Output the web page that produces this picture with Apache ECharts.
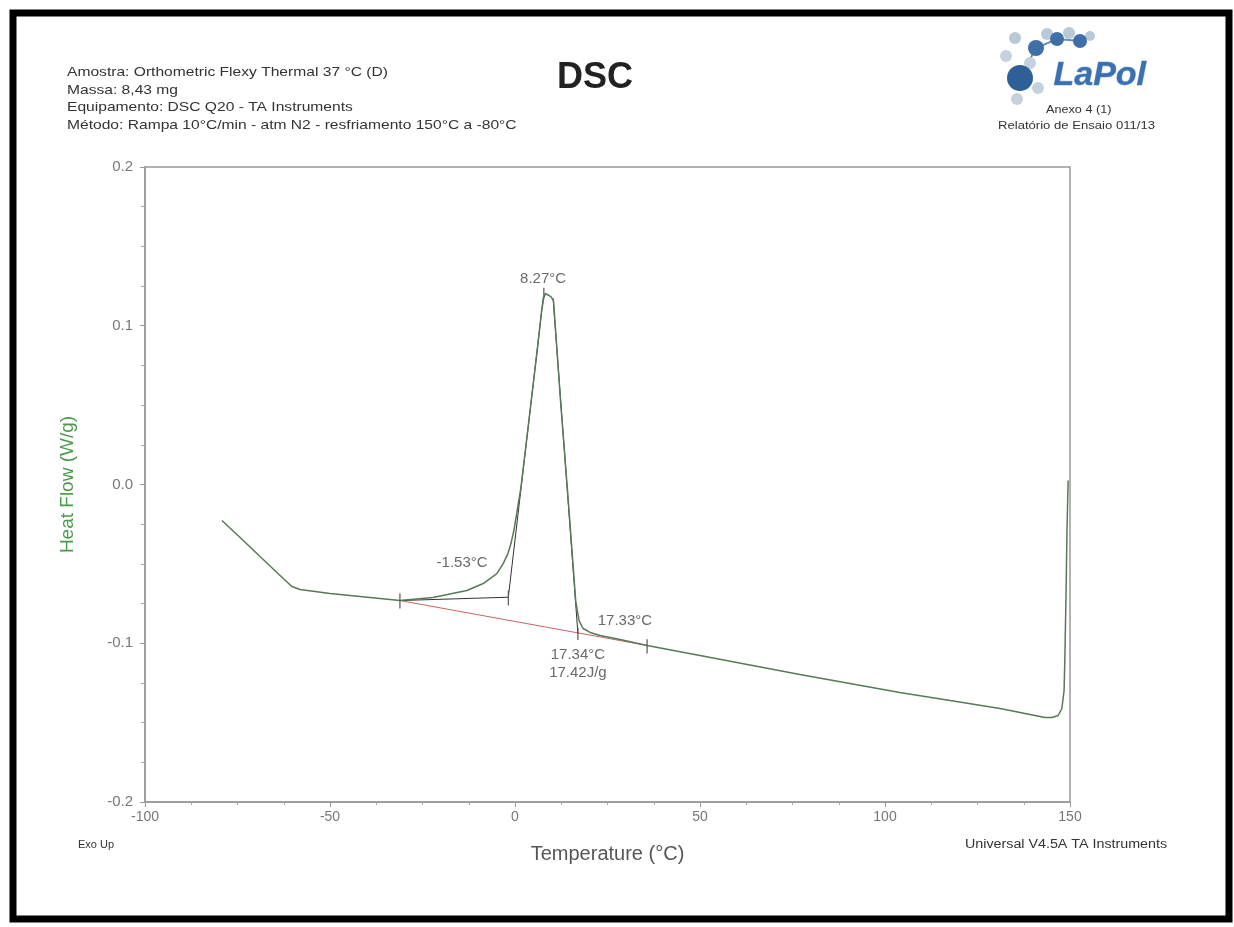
<!DOCTYPE html>
<html>
<head>
<meta charset="utf-8">
<title>DSC</title>
<script src="https://cdn.jsdelivr.net/npm/echarts@6/dist/echarts.min.js"></script>
<style>
  html, body { margin: 0; padding: 0; background: #fff; }
  #chart { width: 1234px; height: 927px; }
</style>
</head>
<body>
<div id="chart"></div>
<script>
// DSC curve, temperature (°C) vs heat flow (W/g)
const temps = [
  -79.2, -74.3, -68.9, -63.5, -60.3, -58.1, -50.0, -41.9, -31.1, -22.2,
  -13.0, -8.6, -4.9, -3.2, -1.9, -1.1, -0.3, 1.6, 2.8, 4.4,
  6.0, 7.2, 7.8, 8.2, 9.7, 10.4, 12.3, 14.4, 16.4, 17.3,
  18.4, 20.3, 23.0, 28.4, 35.7, 50.0, 77.0, 104.0, 117.6, 131.1,
  139.2, 143.2, 145.1, 146.8, 147.8, 148.4, 148.6, 148.9, 149.2, 149.5
];
const heatFlow = [
  -0.0227, -0.0334, -0.0454, -0.0573, -0.0643, -0.0661, -0.0687, -0.0706, -0.0731, -0.0712,
  -0.0668, -0.0624, -0.0561, -0.0498, -0.0435, -0.0372, -0.0290, -0.0019, 0.0214, 0.0529,
  0.0844, 0.1096, 0.1178, 0.1203, 0.1184, 0.1159, 0.0529, -0.0101, -0.0731, -0.0857,
  -0.0907, -0.0932, -0.0951, -0.0976, -0.1014, -0.1077, -0.1197, -0.1310, -0.1361, -0.1411,
  -0.1449, -0.1468, -0.1468, -0.1455, -0.1411, -0.1298, -0.1109, -0.0731, -0.0271, 0.0025
];

// peak analysis construction lines
const integBaseline = [[-31.1, -0.0731], [35.7, -0.1014]];
const onsetBase = [[-31.1, -0.0731], [-1.8, -0.0710]];
const leftTangent = [[-1.8, -0.0710], [7.65, 0.1180]];
const rightTangent = [[10.3, 0.1172], [17.0, -0.0939]];
const tickMarks = [
  [[-31.1, -0.0687], [-31.1, -0.0781]],
  [[-1.8, -0.0668], [-1.8, -0.0762]],
  [[17.0, -0.0900], [17.0, -0.0980]],
  [[35.7, -0.0975], [35.7, -0.1065]],
  [[7.8, 0.1240], [7.8, 0.1180]]
];
const peakLabels = [
  [7.6, 0.1297, '8.27°C'],
  [-14.3, -0.0491, '-1.53°C'],
  [29.7, -0.0857, '17.33°C'],
  [17.0, -0.1071, '17.34°C'],
  [17.0, -0.1184, '17.42J/g']
];

const headerLines = [
  'Amostra: Orthometric Flexy Thermal 37 °C (D)',
  'Massa: 8,43 mg',
  'Equipamento: DSC Q20 - TA Instruments',
  'Método: Rampa 10°C/min - atm N2 - resfriamento 150°C a -80°C'
];

const chart = echarts.init(document.getElementById('chart'));
const font = 'Liberation Sans, Arial, sans-serif';

const lineSeries = (data, color, width) => ({
  type: 'line',
  data: data,
  symbol: 'none',
  silent: true,
  animation: false,
  lineStyle: { color: color, width: width }
});

const series = [
  lineSeries(integBaseline, '#c86464', 1),
  lineSeries(onsetBase, '#333', 1),
  lineSeries(leftTangent, '#333', 1),
  lineSeries(rightTangent, '#333', 1),
  lineSeries(temps.map((t, i) => [t, heatFlow[i]]), '#557a55', 1.5)
];
tickMarks.forEach(t => series.push(lineSeries(t, '#555', 1.2)));
series.push({
  type: 'scatter',
  data: peakLabels,
  symbolSize: 1,
  silent: true,
  animation: false,
  itemStyle: { color: 'rgba(0,0,0,0)' },
  label: {
    show: true,
    position: 'inside',
    formatter: p => p.value[2],
    color: '#444',
    fontSize: 15,
    fontFamily: font
  }
});

// the scan is a bit stretched sideways, so the page texts get scaleX
const wideText = (x, y, text, size, sx, extra) => Object.assign({
  type: 'text', x: x, y: y, scaleX: sx,
  style: { text: text, font: size + 'px ' + font, fill: '#333', textVerticalAlign: 'top' }
}, extra || {});

const graphic = [
  {
    type: 'rect',
    shape: { x: 13, y: 13, width: 1216, height: 906 },
    style: { fill: null, stroke: '#000', lineWidth: 7 }
  },
  {
    type: 'text', left: 557, top: 60,
    style: { text: 'DSC', font: 'bold 36px ' + font, fill: '#222' }
  },
  wideText(1046, 104, 'Anexo 4 (1)', 11, 1.15),
  wideText(998, 120, 'Relatório de Ensaio 011/13', 11, 1.19),
  wideText(78, 839, 'Exo Up', 11, 1),
  wideText(965, 839, 'Universal V4.5A TA Instruments', 12, 1.19)
];
headerLines.forEach((t, i) => graphic.push(wideText(67, 66 + i * 17.5, t, 13, 1.2)));

// LaPol logo, built from circles and text
const bubbles = [
  [1015, 38, 6, '#b9c9d8'], [1047, 34, 6, '#b9c9d8'], [1069, 33, 6, '#b9c9d8'],
  [1090, 36, 5, '#b9c9d8'], [1006, 56, 6, '#c5d1dc'], [1030, 63, 6, '#c5d1dc'],
  [1017, 99, 6, '#c5d1dc'], [1038, 88, 6, '#c5d1dc'],
  [1036, 48, 8, '#3f6fa8'], [1057, 39, 7, '#3f6fa8'], [1080, 41, 7, '#3f6fa8'],
  [1020, 78, 13, '#2f5f97']
];
graphic.push({
  type: 'polyline',
  shape: { points: [[1020, 78], [1036, 48], [1057, 39], [1080, 41]] },
  style: { stroke: '#6a8fb8', lineWidth: 2, fill: null }
});
bubbles.forEach(b => graphic.push({
  type: 'circle',
  shape: { cx: b[0], cy: b[1], r: b[2] },
  style: { fill: b[3] }
}));
graphic.push({
  type: 'text', left: 1053, top: 58,
  style: { text: 'LaPol', font: 'italic bold 34px ' + font, fill: '#3c70b4', stroke: '#a9c3e0', lineWidth: 1 }
});

const option = {
  backgroundColor: '#fff',
  animation: false,
  grid: {
    left: 145, right: 164, top: 167, bottom: 125,
    show: true, borderColor: '#999', borderWidth: 1.5
  },
  xAxis: {
    type: 'value',
    min: -100, max: 150, interval: 50,
    name: 'Temperature (°C)',
    nameLocation: 'middle',
    nameGap: 42,
    nameTextStyle: { color: '#555', fontSize: 20, fontFamily: font },
    axisLine: { show: true, onZero: false, lineStyle: { color: '#999', width: 1.5 } },
    axisTick: { show: true, length: 5, lineStyle: { color: '#999' } },
    minorTick: { show: true, splitNumber: 4, length: 3, lineStyle: { color: '#aaa' } },
    axisLabel: { color: '#777', fontSize: 14, fontFamily: font, margin: 8 },
    splitLine: { show: false }
  },
  yAxis: {
    type: 'value',
    min: -0.2, max: 0.2, interval: 0.1,
    name: 'Heat Flow (W/g)',
    nameLocation: 'middle',
    nameGap: 68,
    nameTextStyle: { color: '#4a9a4a', fontSize: 19, fontFamily: font },
    axisLine: { show: true, onZero: false, lineStyle: { color: '#999', width: 1.5 } },
    axisTick: { show: true, length: 5, lineStyle: { color: '#999' } },
    minorTick: { show: true, splitNumber: 4, length: 4, lineStyle: { color: '#aaa' } },
    axisLabel: {
      color: '#777', fontSize: 15, fontFamily: font, margin: 12,
      formatter: v => (Math.abs(v) < 1e-9 ? 0 : v).toFixed(1)
    },
    splitLine: { show: false }
  },
  graphic: graphic,
  series: series
};

chart.setOption(option);
</script>
</body>
</html>
